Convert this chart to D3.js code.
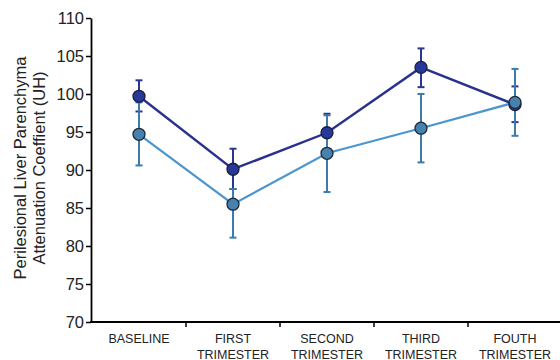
<!DOCTYPE html>
<html>
<head>
<meta charset="utf-8">
<script src="https://cdn.jsdelivr.net/npm/d3@7"></script>
<style>
  body { margin: 0; background: #fff; }
  svg { display: block; font-family: "Liberation Sans", Arial, sans-serif; }
</style>
</head>
<body>
<script>
var width = 560;
var height = 360;

// categories, two lines each
var categories = ["BASELINE", "FIRST|TRIMESTER", "SECOND|TRIMESTER", "THIRD|TRIMESTER", "FOUTH|TRIMESTER"];

// dark series (mean, low, high)
var darkMean = [99.7, 90.1, 94.9, 103.5, 98.6];
var darkLow  = [97.7, 87.5, 92.6, 100.9, 96.3];
var darkHigh = [101.8, 92.8, 97.4, 106.0, 101.0];

// light series
var lightMean = [94.7, 85.5, 92.2, 95.5, 98.9];
var lightLow  = [90.6, 81.1, 87.1, 91.0, 94.5];
var lightHigh = [98.9, 87.5, 97.2, 100.0, 103.3];

var yTicks = [70, 75, 80, 85, 90, 95, 100, 105, 110];

var svg = d3.select("body").append("svg")
    .attr("width", width)
    .attr("height", height);

var x = d3.scaleBand()
    .domain(categories)
    .range([92, 562]);

var y = d3.scaleLinear()
    .domain([70, 110])
    .range([322, 18]);

function cx(i) { return x(categories[i]) + x.bandwidth() / 2; }

// y axis
var yAxis = svg.append("g")
    .attr("transform", "translate(91,0)")
    .call(d3.axisLeft(y).tickValues(yTicks).tickSize(5).tickSizeOuter(0));
yAxis.select(".domain").attr("stroke", "#000").attr("stroke-width", 1.8);
yAxis.selectAll(".tick line").attr("stroke", "#000").attr("stroke-width", 1.5);
yAxis.selectAll(".tick text")
    .attr("font-size", 16.5)
    .attr("fill", "#222")
    .attr("x", -7);

// x axis
var xAxis = svg.append("g")
    .attr("transform", "translate(0,322)")
    .call(d3.axisBottom(x).tickSize(0).tickSizeOuter(0));
xAxis.select(".domain").remove();
xAxis.selectAll(".tick text").remove();
svg.append("line")
    .attr("x1", 90).attr("x2", 560)
    .attr("y1", 322).attr("y2", 322)
    .attr("stroke", "#000").attr("stroke-width", 1.8);
svg.selectAll(".xtick")
    .data(categories.slice(1))
    .enter().append("line")
    .attr("x1", function(d) { return x(d); })
    .attr("x2", function(d) { return x(d); })
    .attr("y1", 322).attr("y2", 327)
    .attr("stroke", "#000").attr("stroke-width", 1.5);

var labels = svg.selectAll(".xlabel")
    .data(categories)
    .enter().append("text")
    .attr("text-anchor", "middle")
    .attr("font-size", 12.5)
    .attr("fill", "#222");
labels.each(function(d, i) {
  var parts = d.split("|");
  var t = d3.select(this);
  parts.forEach(function(p, j) {
    t.append("tspan")
      .attr("x", cx(i))
      .attr("y", 343 + j * 16)
      .text(p);
  });
});

// y title
var title = svg.append("text")
    .attr("transform", "translate(0,168) rotate(-90)")
    .attr("text-anchor", "middle")
    .attr("font-size", 16.5)
    .attr("fill", "#222");
title.append("tspan").attr("x", 0).attr("y", 26).text("Perilesional Liver Parenchyma");
title.append("tspan").attr("x", 0).attr("y", 45).text("Attenuation Coeffient (UH)");

function errorBars(low, high, color) {
  var g = svg.append("g").attr("stroke", color).attr("stroke-width", 2);
  low.forEach(function(lo, i) {
    var xc = cx(i);
    g.append("line").attr("x1", xc).attr("x2", xc).attr("y1", y(lo)).attr("y2", y(high[i]));
    g.append("line").attr("x1", xc - 3.5).attr("x2", xc + 3.5).attr("y1", y(lo)).attr("y2", y(lo));
    g.append("line").attr("x1", xc - 3.5).attr("x2", xc + 3.5).attr("y1", y(high[i])).attr("y2", y(high[i]));
  });
}

errorBars(darkLow, darkHigh, "#2b3591");
errorBars(lightLow, lightHigh, "#3c7bab");

var line = d3.line()
    .x(function(d, i) { return cx(i); })
    .y(function(d) { return y(d); });

svg.append("path").datum(lightMean)
    .attr("d", line).attr("fill", "none")
    .attr("stroke", "#4b96cf").attr("stroke-width", 2.2);
svg.append("path").datum(darkMean)
    .attr("d", line).attr("fill", "none")
    .attr("stroke", "#28318c").attr("stroke-width", 2.4);

svg.selectAll(".pdark").data(darkMean).enter().append("circle")
    .attr("cx", function(d, i) { return cx(i); })
    .attr("cy", function(d) { return y(d); })
    .attr("r", 6)
    .attr("fill", "#28379a")
    .attr("stroke", "#1a1f3a").attr("stroke-width", 1.3);

svg.selectAll(".plight").data(lightMean).enter().append("circle")
    .attr("cx", function(d, i) { return cx(i); })
    .attr("cy", function(d) { return y(d); })
    .attr("r", 6)
    .attr("fill", "#4781ae")
    .attr("stroke", "#1e2a38").attr("stroke-width", 1.3);
</script>
</body>
</html>
